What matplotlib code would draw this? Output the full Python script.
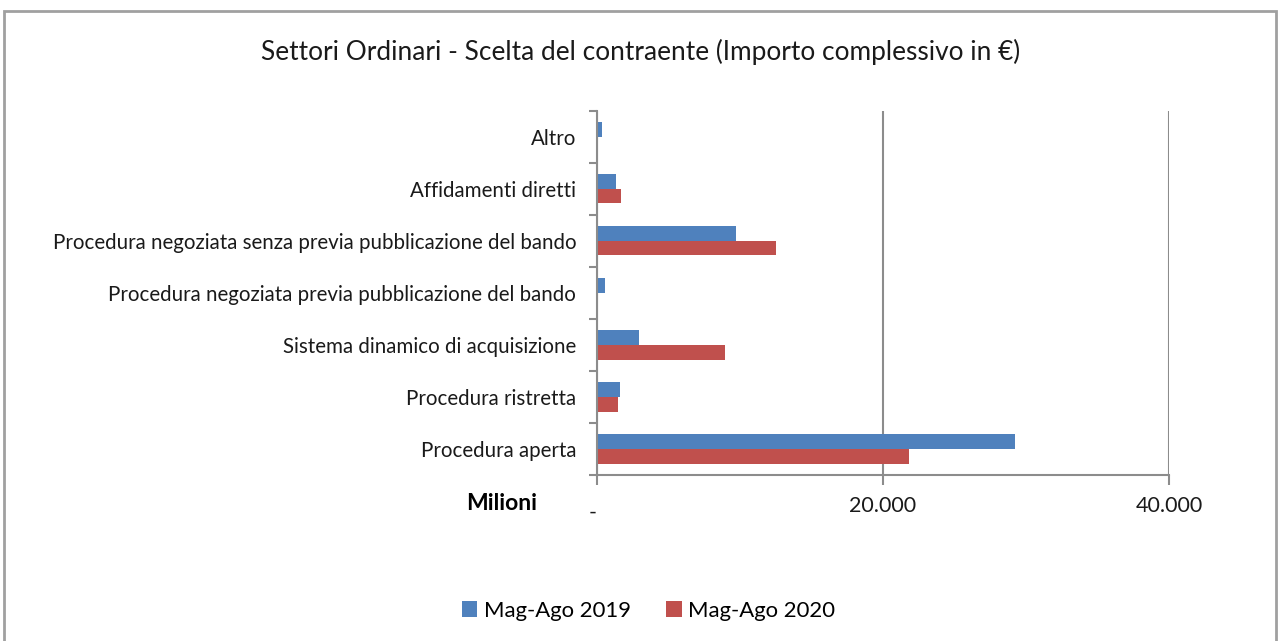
import numpy as np
import matplotlib.pyplot as plt
from matplotlib.patches import Rectangle
from matplotlib.transforms import ScaledTranslation

# data (milioni di euro), top to bottom
categorie = ['Altro',
             'Affidamenti diretti',
             'Procedura negoziata senza previa pubblicazione del bando',
             'Procedura negoziata previa pubblicazione del bando',
             'Sistema dinamico di acquisizione',
             'Procedura ristretta',
             'Procedura aperta']
mag_ago_2019 = [330, 1300, 9700, 560, 2950, 1630, 29200]
mag_ago_2020 = [0, 1650, 12550, 0, 8980, 1470, 21850]
serie = ['Mag-Ago 2019', 'Mag-Ago 2020']
x_ticks = [0, 20000, 40000]
x_labels = ['-', '20.000', '40.000']

blu = '#4F81BD'
rosso = '#C0504D'
grigio = '#8C8C8C'

plt.rcParams['font.family'] = ['Lato', 'DejaVu Sans']

fig = plt.figure(figsize=(12.79, 6.41), dpi=100)
ax = fig.add_axes([0.4668, 0.259, 0.4472, 0.568])

n = len(categorie)
y = np.arange(n)[::-1]          # top category at the top
h = 0.28
ax.barh(y + h / 2, mag_ago_2019, height=h, color=blu, label=serie[0])
ax.barh(y - h / 2, mag_ago_2020, height=h, color=rosso, label=serie[1])

ax.set_ylim(-0.5, n - 0.5)
ax.set_xlim(0, 40000)

# category labels in the middle, tick marks at the boundaries
ax.set_yticks(y)
ax.set_yticklabels(categorie, fontsize=14.8, color='#1a1a1a')
ax.set_yticks(np.arange(-0.5, n, 1), minor=True)
ax.tick_params(axis='y', which='major', length=0, pad=15)
ax.tick_params(axis='y', which='minor', length=6, width=1.5, color=grigio, direction='out')

ax.set_xticks(x_ticks)
ax.set_xticklabels(x_labels, fontsize=15.5, color='#1a1a1a')
ax.tick_params(axis='x', length=7, width=1.5, color=grigio, direction='out', pad=8)
# the "-" label for zero sits a bit lower
lbl0 = ax.get_xticklabels()[0]
lbl0.set_transform(lbl0.get_transform() + ScaledTranslation(-0.04, -0.07, fig.dpi_scale_trans))

ax.grid(axis='x', color=grigio, linewidth=1.5)
ax.set_axisbelow(True)
for s in ['top', 'right']:
    ax.spines[s].set_visible(False)
for s in ['left', 'bottom']:
    ax.spines[s].set_color(grigio)
    ax.spines[s].set_linewidth(1.5)

fig.text(0.3925, 0.215, 'Milioni', fontsize=16.5, fontweight='bold', ha='center', va='center')

fig.text(0.501, 0.919, 'Settori Ordinari - Scelta del contraente (Importo complessivo in \u20ac)',
         fontsize=18.9, ha='center', va='center', color='#1a1a1a')

ax.legend(loc='center', bbox_to_anchor=(0.507, 0.047), bbox_transform=fig.transFigure,
          ncol=2, frameon=False, fontsize=15.9, handlelength=0.7, handleheight=0.7,
          handletextpad=0.3, columnspacing=1.6)

# chart border
fig.patches.append(Rectangle((0.003, -0.02), 0.9946, 1.003, transform=fig.transFigure,
                             fill=False, edgecolor='#A0A0A0', linewidth=2))

fig.savefig('out.png', dpi=100)
